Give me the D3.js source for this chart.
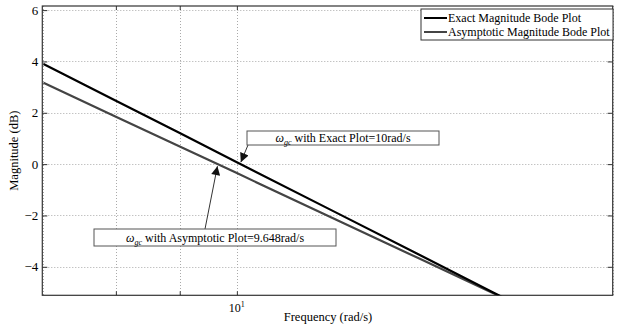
<!DOCTYPE html>
<html><head><meta charset="utf-8">
<script src="https://cdn.jsdelivr.net/npm/d3@7"></script>
<style>body{margin:0;background:#fff}svg{display:block}text{font-family:"Liberation Serif","Times New Roman",serif}</style>
</head><body><svg id="c" width="623" height="325"></svg>
<script>
const freqs = [7, 8, 9, 10, 12, 14, 16, 18, 20];
const exactDb = [3.90, 2.47, 1.21, 0.07, -1.88, -3.53, -4.97, -6.23, -7.36];
const asymDb = [3.17, 1.85, 0.69, -0.35, -2.16, -3.68, -5.00, -6.16, -7.20];
const yTicks = [-4, -2, 0, 2, 4, 6];
const xGrid = [7, 8, 9, 10, 20];
const xMajor = [10];
const seriesNames = ["Exact Magnitude Bode Plot", "Asymptotic Magnitude Bode Plot"];
const seriesColors = ["#000000", "#444444"];
const annExact = {f: 10, db: 0, label: " with Exact Plot=10rad/s"};
const annAsym = {f: 9.648, db: 0, label: " with Asymptotic Plot=9.648rad/s"};

const svg = d3.select("#c");
const L = 42.3, R = 612.7, T = 6, B = 295.3;
const x = d3.scaleLog().domain([6.985, 20]).range([L, R]);
const y = d3.scaleLinear().domain([-5.11, 6.16]).range([B, T]);

svg.append("defs").append("clipPath").attr("id","clip")
  .append("rect").attr("x",L).attr("y",T).attr("width",R-L).attr("height",B-T);

// grid
const g = svg.append("g");
g.selectAll(".hg").data(yTicks).join("line")
  .attr("x1",L).attr("x2",R).attr("y1",d=>Math.round(y(d))+0.5).attr("y2",d=>Math.round(y(d))+0.5)
  .attr("stroke","#aaa").attr("stroke-width",1).attr("stroke-dasharray","1,2");
g.selectAll(".vg").data(xGrid).join("line")
  .attr("x1",d=>Math.round(x(d))+0.5).attr("x2",d=>Math.round(x(d))+0.5).attr("y1",T).attr("y2",B)
  .attr("stroke","#aaa").attr("stroke-width",1).attr("stroke-dasharray","1,2");

// axes
const axL = svg.append("g").attr("transform",`translate(${L},0)`)
  .call(d3.axisLeft(y).tickValues(yTicks).tickSize(-5).tickPadding(4).tickFormat(d=>d<0?"\u2212"+Math.abs(d):d));
const axR = svg.append("g").attr("transform",`translate(${R},0)`)
  .call(d3.axisRight(y).tickValues(yTicks).tickSize(-5).tickFormat(""));
const axB = svg.append("g").attr("transform",`translate(0,${B})`)
  .call(d3.axisBottom(x).tickValues(xGrid.slice(1,4)).tickSize(-4).tickFormat(""));
const axT = svg.append("g").attr("transform",`translate(0,${T})`)
  .call(d3.axisTop(x).tickValues(xGrid.slice(1,4)).tickSize(-4).tickFormat(""));
[axL,axR,axB,axT].forEach(a=>{
  a.select(".domain").remove();
  a.attr("font-family",null);
  a.selectAll("line").attr("stroke","#333");
  a.selectAll("text").attr("font-size",13).attr("fill","#000").style("font-family","Liberation Serif");
});
svg.append("rect").attr("x",L).attr("y",T).attr("width",R-L).attr("height",B-T)
  .attr("fill","none").attr("stroke","#333").attr("stroke-width",1.2);

// x tick label 10^1
xMajor.forEach(v=>{
  const t = svg.append("text").attr("x",x(v)).attr("y",312).attr("text-anchor","middle").attr("font-size",12);
  t.append("tspan").text("10");
  t.append("tspan").attr("dy",-5).attr("font-size",8).text("1");
});

// lines
const line = d3.line().x((d,i)=>x(freqs[i])).y(d=>y(d));
const pl = svg.append("g").attr("clip-path","url(#clip)");
[asymDb, exactDb].forEach((arr,k)=>{
  const idx = k===0?1:0;
  pl.append("path").datum(arr).attr("d",line).attr("fill","none")
    .attr("stroke",seriesColors[idx]).attr("stroke-width",2.2);
});

// legend
const lg = svg.append("g");
lg.append("rect").attr("x",421).attr("y",9).attr("width",192).attr("height",31)
  .attr("fill","#fff").attr("stroke","#333").attr("stroke-width",1);
seriesNames.forEach((n,i)=>{
  const yy = 18 + i*14;
  lg.append("line").attr("x1",424).attr("x2",447).attr("y1",yy).attr("y2",yy)
    .attr("stroke",seriesColors[i]).attr("stroke-width",2);
  lg.append("text").attr("x",448).attr("y",yy+4).attr("font-size",12).text(n);
});

// annotations
svg.append("defs").append("marker").attr("id","arr").attr("viewBox","0 0 10 10")
  .attr("refX",10).attr("refY",5).attr("markerWidth",10).attr("markerHeight",9)
  .attr("markerUnits","userSpaceOnUse").attr("orient","auto")
  .append("path").attr("d","M0,0 L10,5 L0,10 z").attr("fill","#111");
function ann(a, bx, by, bw, bh, sx, sy, dx) {
  svg.append("line").attr("x1",sx).attr("y1",sy).attr("x2",x(a.f)+dx).attr("y2",y(a.db)+ (dx>0?-2:2))
    .attr("stroke","#333").attr("stroke-width",1).attr("marker-end","url(#arr)");
  svg.append("rect").attr("x",bx).attr("y",by).attr("width",bw).attr("height",bh)
    .attr("fill","#fff").attr("stroke","#555").attr("stroke-width",1);
  const t = svg.append("text").attr("x",bx+bw/2).attr("y",by+bh/2+4).attr("text-anchor","middle").attr("font-size",12);
  t.append("tspan").attr("font-style","italic").text("\u03c9");
  t.append("tspan").attr("font-style","italic").attr("font-size",8).attr("dy",3).text("gc");
  t.append("tspan").attr("dy",-3).text(a.label);
}
ann(annExact, 247, 131, 192, 14, 248, 145, 4);
ann(annAsym, 94, 229, 242, 17, 205, 229, 0);

// axis titles
svg.append("text").attr("x",328).attr("y",321).attr("text-anchor","middle").attr("font-size",12.5).text("Frequency (rad/s)");
svg.append("text").attr("transform",`translate(18,${(T+B)/2}) rotate(-90)`).attr("text-anchor","middle").attr("font-size",12.5).text("Magnitude (dB)");
</script></body></html>
